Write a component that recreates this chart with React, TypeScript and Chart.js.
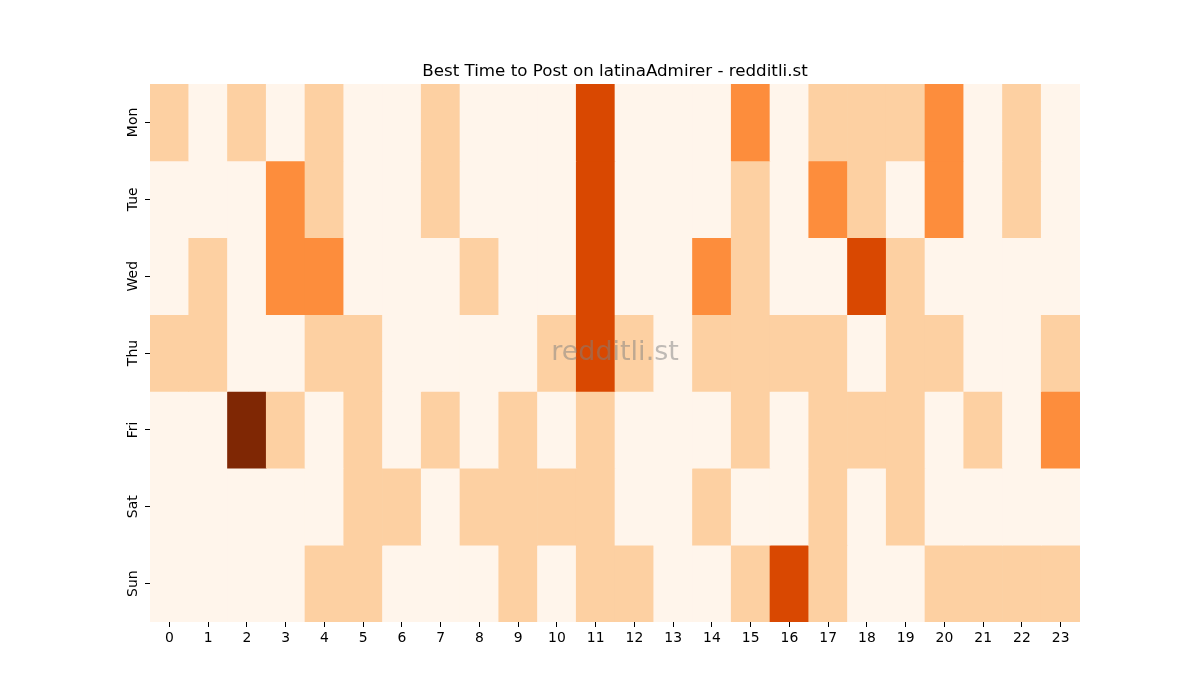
import { useEffect, useRef } from "react"
import { Chart, registerables, type Plugin } from "chart.js"

Chart.register(...registerables)

const hours = Array.from({ length: 24 }, (_, i) => String(i))
const days = ["Mon", "Tue", "Wed", "Thu", "Fri", "Sat", "Sun"]

// activity level per day (row) and hour (column), 0..4
const mon = [1, 0, 1, 0, 1, 0, 0, 1, 0, 0, 0, 3, 0, 0, 0, 2, 0, 1, 1, 1, 2, 0, 1, 0]
const tue = [0, 0, 0, 2, 1, 0, 0, 1, 0, 0, 0, 3, 0, 0, 0, 1, 0, 2, 1, 0, 2, 0, 1, 0]
const wed = [0, 1, 0, 2, 2, 0, 0, 0, 1, 0, 0, 3, 0, 0, 2, 1, 0, 0, 3, 1, 0, 0, 0, 0]
const thu = [1, 1, 0, 0, 1, 1, 0, 0, 0, 0, 1, 3, 1, 0, 1, 1, 1, 1, 0, 1, 1, 0, 0, 1]
const fri = [0, 0, 4, 1, 0, 1, 0, 1, 0, 1, 0, 1, 0, 0, 0, 1, 0, 1, 1, 1, 0, 1, 0, 2]
const sat = [0, 0, 0, 0, 0, 1, 1, 0, 1, 1, 1, 1, 0, 0, 1, 0, 0, 1, 0, 1, 0, 0, 0, 0]
const sun = [0, 0, 0, 0, 1, 1, 0, 0, 0, 1, 0, 1, 1, 0, 0, 1, 3, 1, 0, 0, 1, 1, 1, 1]
const rows = [mon, tue, wed, thu, fri, sat, sun]

// Oranges colormap steps
const palette = ["#fff5eb", "#fdd0a2", "#fd8d3c", "#d94801", "#7f2704"]

const FONT = "'DejaVu Sans', sans-serif"

const overlay: Plugin = {
  id: "overlay",
  afterDraw(chart) {
    const { ctx, chartArea } = chart
    const y = chart.scales.y
    ctx.save()
    // day labels, rotated, centered on each row
    ctx.fillStyle = "#000"
    ctx.font = `14px ${FONT}`
    ctx.textAlign = "center"
    ctx.textBaseline = "middle"
    days.forEach((d, i) => {
      const py = y.getPixelForValue(i + 0.5)
      ctx.save()
      ctx.translate(chartArea.left - 17, py)
      ctx.rotate(-Math.PI / 2)
      ctx.fillText(d, 0, 0)
      ctx.restore()
    })
    ctx.font = `16.7px ${FONT}`
    ctx.textBaseline = "alphabetic"
    ctx.fillText("Best Time to Post on latinaAdmirer - redditli.st", (chartArea.left + chartArea.right) / 2, 76)
    ctx.fillStyle = "rgba(128,128,128,0.5)"
    ctx.font = `27px ${FONT}`
    ctx.textBaseline = "middle"
    ctx.fillText("redditli.st", 615, 353)
    ctx.restore()
  },
}

export default function App() {
  const canvasRef = useRef<HTMLCanvasElement>(null)

  useEffect(() => {
    if (!canvasRef.current) return
    const chart = new Chart(canvasRef.current, {
      type: "bar",
      data: {
        labels: hours,
        datasets: rows.map((row, r) => ({
          label: days[r],
          data: row.map(() => [r, r + 1] as [number, number]),
          backgroundColor: row.map((v) => palette[v]),
          borderWidth: 0,
          borderSkipped: false,
          barPercentage: 1,
          categoryPercentage: 1,
          grouped: false,
        })),
      },
      options: {
        animation: false,
        responsive: false,
        layout: { padding: { top: 84, right: 120, left: 0, bottom: 0 } },
        plugins: {
          legend: { display: false },
          tooltip: { enabled: false },
        },
        scales: {
          x: {
            offset: true,
            grid: { drawOnChartArea: false, tickLength: 5, tickColor: "#000", offset: false },
            border: { display: false },
            ticks: { color: "#000", font: { family: FONT, size: 13.9 }, maxRotation: 0, autoSkip: false, padding: 3 },
            afterFit: (s) => {
              s.height = 78
            },
          },
          y: {
            type: "linear",
            min: 0,
            max: 7,
            reverse: true,
            afterBuildTicks: (s) => {
              s.ticks = days.map((_, i) => ({ value: i + 0.5 }))
            },
            grid: { drawOnChartArea: false, tickLength: 5, tickColor: "#000" },
            border: { display: false },
            ticks: { display: false },
            afterFit: (s) => {
              s.width = 150
            },
          },
        },
      },
      plugins: [overlay],
    })
    return () => chart.destroy()
  }, [])

  return (
    <div style={{ position: "fixed", left: 0, top: 0, width: 1200, height: 700, background: "#fff" }}>
      <canvas ref={canvasRef} width={1200} height={700} />
    </div>
  )
}
